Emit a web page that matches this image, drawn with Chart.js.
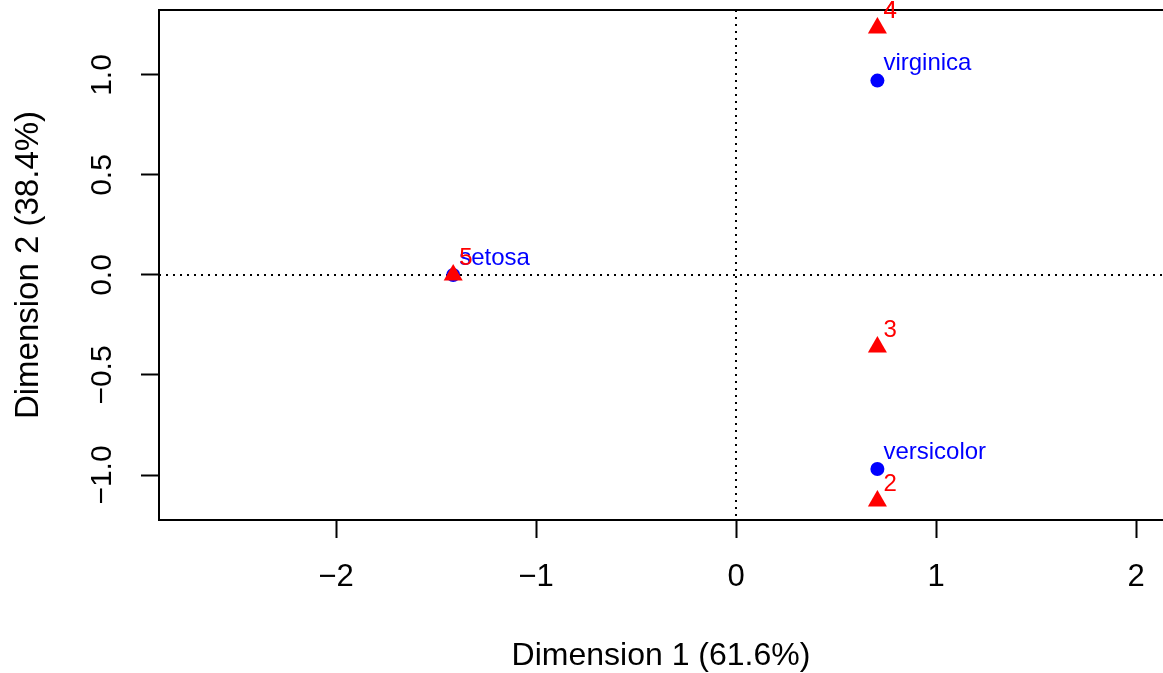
<!DOCTYPE html>
<html>
<head>
<meta charset="utf-8">
<script src="https://cdn.jsdelivr.net/npm/chart.js@4.4.1/dist/chart.umd.min.js"></script>
<style>
  html, body { margin: 0; padding: 0; background: #fff; }
  #plot { display: block; }
</style>
</head>
<body>
<canvas id="plot" width="1163" height="673"></canvas>
<script>
// filas (especies) y columnas, coordenadas
const rowNames = ['setosa', 'versicolor', 'virginica'];
const rowDim1 = [-1.414, 0.707, 0.707];
const rowDim2 = [0.0, -0.97, 0.972];

const colNames = ['2', '3', '4', '5'];
const colDim1 = [0.707, 0.707, 0.707, -1.414];
const colDim2 = [-1.13, -0.36, 1.235, 0.0];

const xTicks = [-2, -1, 0, 1, 2];
const yTicks = [-1, -0.5, 0, 0.5, 1];
const yTickLabels = ['\u22121.0', '\u22120.5', '0.0', '0.5', '1.0'];

const xTitle = 'Dimension 1 (61.6%)';
const yTitle = 'Dimension 2 (38.4%)';

const FONT = 'Liberation Sans, Arial, Helvetica, sans-serif';

function toPoints(xs, ys) {
  return xs.map((x, i) => ({ x: x, y: ys[i] }));
}

// lineas punteadas, borde superior, etiquetas de puntos y del eje y
const extras = {
  id: 'extras',
  beforeDatasetsDraw(chart) {
    const { ctx, chartArea: a, scales: { x, y } } = chart;
    ctx.save();
    ctx.strokeStyle = '#000';
    ctx.lineWidth = 2;
    ctx.setLineDash([2, 5]);
    const x0 = Math.round(x.getPixelForValue(0));
    const y0 = Math.round(y.getPixelForValue(0));
    ctx.beginPath();
    ctx.moveTo(x0, a.top);
    ctx.lineTo(x0, a.bottom);
    ctx.moveTo(a.left, y0);
    ctx.lineTo(a.right, y0);
    ctx.stroke();
    ctx.setLineDash([]);
    ctx.beginPath();
    ctx.moveTo(a.left - 1, a.top);
    ctx.lineTo(a.right, a.top);
    ctx.stroke();
    ctx.restore();
  },
  afterDatasetsDraw(chart) {
    const { ctx, scales: { y } } = chart;
    ctx.save();
    ctx.font = '24px ' + FONT;
    ctx.textAlign = 'left';
    ctx.textBaseline = 'middle';
    const groups = [[0, rowNames, '#0000ff'], [1, colNames, '#ff0000']];
    groups.forEach(([di, names, col]) => {
      const meta = chart.getDatasetMeta(di);
      ctx.fillStyle = col;
      meta.data.forEach((pt, i) => {
        ctx.fillText(names[i], pt.x + 6, pt.y - 17);
        if (names[i] === '4') ctx.fillText(names[i], pt.x + 6, pt.y - 17);
      });
    });
    // etiquetas del eje y, giradas
    ctx.fillStyle = '#000';
    ctx.font = '30px ' + FONT;
    ctx.textAlign = 'center';
    yTicks.forEach((v, i) => {
      const py = y.getPixelForValue(v);
      ctx.save();
      ctx.translate(103, py);
      ctx.rotate(-Math.PI / 2);
      ctx.fillText(yTickLabels[i], 0, 0);
      ctx.restore();
    });
    ctx.restore();
  }
};

new Chart(document.getElementById('plot'), {
  type: 'scatter',
  data: {
    datasets: [
      {
        label: 'filas',
        data: toPoints(rowDim1, rowDim2),
        pointStyle: 'circle',
        pointRadius: 7,
        backgroundColor: '#0000ff',
        borderColor: '#0000ff',
        borderWidth: 0,
        order: 1
      },
      {
        label: 'columnas',
        data: toPoints(colDim1, colDim2),
        pointStyle: 'triangle',
        pointRadius: 11,
        backgroundColor: '#ff0000',
        borderColor: '#ff0000',
        borderWidth: 0,
        order: 0
      }
    ]
  },
  options: {
    responsive: false,
    animation: false,
    devicePixelRatio: 1,
    layout: { autoPadding: false, padding: { top: 10, right: 0, bottom: 0, left: 0 } },
    plugins: { legend: { display: false }, tooltip: { enabled: false } },
    scales: {
      x: {
        type: 'linear',
        min: -2.885,
        max: 2.135,
        afterFit(scale) {
          scale.height = 153;
          scale.paddingLeft = 0;
          scale.paddingRight = 0;
        },
        afterBuildTicks(scale) { scale.ticks = xTicks.map(v => ({ value: v })); },
        border: { display: true, color: '#000', width: 2 },
        grid: { drawOnChartArea: false, drawTicks: true, tickLength: 18, tickWidth: 2, tickColor: '#000' },
        ticks: {
          color: '#000',
          font: { family: FONT, size: 31 },
          padding: 21,
          maxRotation: 0,
          autoSkip: false,
          callback: v => (v < 0 ? '\u2212' + Math.abs(v) : String(v))
        },
        title: {
          display: true,
          text: xTitle,
          color: '#000',
          font: { family: FONT, size: 32, lineHeight: 1 },
          padding: { top: 0, bottom: 1 }
        }
      },
      y: {
        type: 'linear',
        min: -1.225,
        max: 1.325,
        afterFit(scale) {
          scale.width = 159;
          scale.paddingTop = 0;
          scale.paddingBottom = 0;
        },
        afterBuildTicks(scale) { scale.ticks = yTicks.map(v => ({ value: v })); },
        border: { display: true, color: '#000', width: 2 },
        grid: { drawOnChartArea: false, drawTicks: true, tickLength: 18, tickWidth: 2, tickColor: '#000' },
        ticks: { callback: () => '' },
        title: {
          display: true,
          text: yTitle,
          color: '#000',
          font: { family: FONT, size: 33, lineHeight: 1 },
          padding: { top: 12, bottom: 0 }
        }
      }
    }
  },
  plugins: [extras]
});
</script>
</body>
</html>
